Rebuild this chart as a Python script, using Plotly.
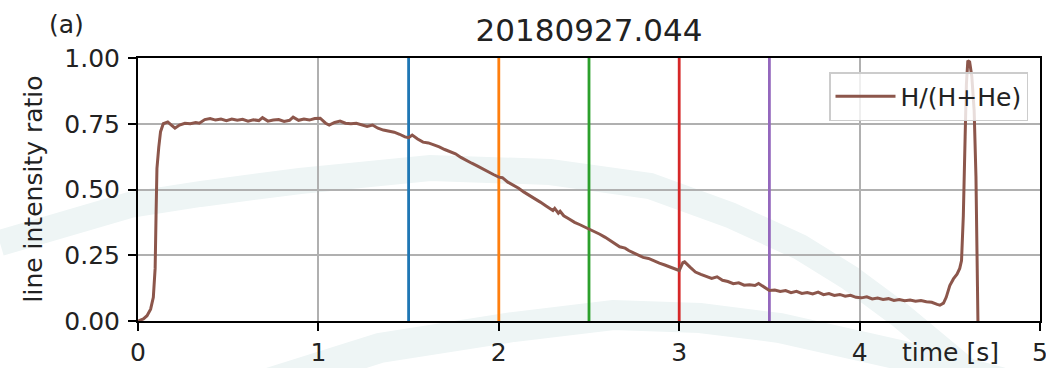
import plotly.graph_objects as go

# H/(H+He) line intensity ratio, shot 20180927.044
time_s = [
    0.00, 0.03, 0.05, 0.07, 0.085, 0.095, 0.10, 0.105, 0.115, 0.125, 0.14, 0.165, 0.185, 0.205,
    0.23, 0.26, 0.29, 0.32, 0.34, 0.37, 0.40, 0.43, 0.46, 0.49, 0.52, 0.55, 0.58, 0.61, 0.64,
    0.67, 0.69, 0.72, 0.75, 0.78, 0.81, 0.84, 0.86, 0.89, 0.92, 0.95, 0.98, 1.01, 1.04, 1.06,
    1.09, 1.12, 1.15, 1.18, 1.21, 1.24, 1.27, 1.30, 1.33, 1.36, 1.39, 1.42, 1.45, 1.48, 1.50,
    1.52, 1.55, 1.58, 1.61, 1.64, 1.67, 1.70, 1.73, 1.76, 1.79, 1.82, 1.85, 1.88, 1.91, 1.94,
    1.97, 2.00, 2.02, 2.05, 2.08, 2.11, 2.14, 2.17, 2.20, 2.23, 2.26, 2.28, 2.30, 2.31, 2.33,
    2.34, 2.36, 2.39, 2.42, 2.45, 2.48, 2.50, 2.53, 2.56, 2.59, 2.62, 2.65, 2.67, 2.70, 2.72,
    2.75, 2.78, 2.80, 2.83, 2.86, 2.89, 2.92, 2.95, 2.98, 3.00, 3.02, 3.03, 3.06, 3.09, 3.12,
    3.15, 3.18, 3.21, 3.24, 3.27, 3.30, 3.33, 3.36, 3.39, 3.42, 3.44, 3.47, 3.50, 3.53, 3.56,
    3.59, 3.62, 3.65, 3.68, 3.71, 3.74, 3.77, 3.80, 3.83, 3.86, 3.89, 3.92, 3.95, 3.98, 4.01,
    4.04, 4.07, 4.10, 4.13, 4.16, 4.19, 4.22, 4.25, 4.28, 4.31, 4.34, 4.37, 4.40, 4.43, 4.445,
    4.465, 4.48, 4.50, 4.52, 4.54, 4.555, 4.565, 4.575, 4.585, 4.592, 4.600, 4.610, 4.622,
    4.635, 4.645, 4.652, 4.656,
]
h_ratio = [
    0.000, 0.008, 0.020, 0.045, 0.090, 0.200, 0.400, 0.580, 0.660, 0.720, 0.750, 0.757, 0.745, 0.733,
    0.745, 0.752, 0.750, 0.755, 0.752, 0.766, 0.770, 0.764, 0.768, 0.762, 0.768, 0.763, 0.767, 0.760, 0.765,
    0.762, 0.773, 0.760, 0.764, 0.766, 0.759, 0.763, 0.775, 0.763, 0.768, 0.764, 0.770, 0.771, 0.752, 0.745,
    0.755, 0.760, 0.752, 0.750, 0.752, 0.745, 0.740, 0.745, 0.733, 0.726, 0.722, 0.718, 0.710, 0.700, 0.697,
    0.707, 0.692, 0.680, 0.677, 0.670, 0.662, 0.652, 0.645, 0.636, 0.622, 0.610, 0.600, 0.590, 0.578, 0.568,
    0.557, 0.547, 0.545, 0.528, 0.517, 0.505, 0.490, 0.478, 0.463, 0.452, 0.438, 0.430, 0.420, 0.428, 0.410,
    0.417, 0.400, 0.388, 0.375, 0.366, 0.356, 0.352, 0.342, 0.330, 0.318, 0.305, 0.293, 0.282, 0.277, 0.268,
    0.258, 0.250, 0.242, 0.238, 0.228, 0.220, 0.213, 0.205, 0.196, 0.192, 0.222, 0.225, 0.205, 0.186, 0.177,
    0.170, 0.162, 0.168, 0.155, 0.150, 0.142, 0.145, 0.136, 0.138, 0.135, 0.143, 0.128, 0.116, 0.118, 0.112,
    0.116, 0.108, 0.113, 0.105, 0.108, 0.103, 0.110, 0.100, 0.104, 0.097, 0.101, 0.094, 0.098, 0.090, 0.088,
    0.092, 0.084, 0.087, 0.082, 0.085, 0.078, 0.082, 0.077, 0.080, 0.075, 0.078, 0.073, 0.071, 0.063, 0.060,
    0.068, 0.090, 0.135, 0.160, 0.178, 0.200, 0.230, 0.400, 0.700, 0.900, 0.990, 0.985, 0.930,
    0.800, 0.550, 0.250, 0.000,
]

# Time slices marked on the trace
slice_times = [1.5, 2.0, 2.5, 3.0, 3.5]
slice_colors = ["#1f77b4", "#ff7f0e", "#2ca02c", "#d62728", "#9467bd"]

x_ticks = [0, 1, 2, 3, 4, 5]
y_ticks = [0.0, 0.25, 0.5, 0.75, 1.0]

FONT = "DejaVu Sans"
W, H = 1046, 368
L, R, T, B = 138, 6, 58, 47
PW, PH = W - L - R, H - T - B


def to_paper(px, py):
    return (px - L) / PW, (H - B - py) / PH


def band_path(points):
    pts = [to_paper(px, py) for px, py in points]
    return "M " + " L ".join(f"{x:.4f},{y:.4f}" for x, y in pts)


fig = go.Figure()

for t, c in zip(slice_times, slice_colors):
    fig.add_trace(go.Scatter(
        x=[t, t], y=[0, 1], mode="lines",
        line=dict(color=c, width=2.8), showlegend=False, hoverinfo="skip",
    ))

fig.add_trace(go.Scatter(
    x=time_s, y=h_ratio, mode="lines", name="H/(H+He)",
    line=dict(color="#8c564b", width=3),
))

# faint background arcs
arc_a = [(0, 243), (130, 205), (200, 194), (300, 181), (430, 168), (550, 172), (650, 186),
         (730, 215), (800, 247), (850, 278), (900, 315), (960, 365), (1000, 400)]
arc_b = [(230, 395), (380, 348), (513, 327), (613, 315), (700, 318), (780, 328),
         (900, 355), (1000, 382), (1060, 400)]
shapes = []
for pts, w in ((arc_a, 26), (arc_b, 30)):
    shapes.append(dict(
        type="path", xref="paper", yref="paper", path=band_path(pts),
        line=dict(color="#eef5f5", width=w), layer="below",
    ))

axis_common = dict(
    showline=True, linecolor="black", linewidth=2, mirror=True,
    ticks="outside", ticklen=8, tickwidth=2, tickcolor="black",
    showgrid=True, gridcolor="#b0b0b0", gridwidth=1.6, zeroline=False,
    tickfont=dict(family=FONT, size=25, color="#222222"),
    automargin=False, ticklabeloverflow="allow",
)

fig.update_layout(
    width=W, height=H,
    margin=dict(l=L, r=R, t=T, b=B, pad=0),
    paper_bgcolor="white", plot_bgcolor="rgba(0,0,0,0)",
    font=dict(family=FONT, color="#222222"),
    title=dict(text="20180927.044", x=589 / W, xanchor="center",
               y=1 - 30 / H, yanchor="middle", yref="container",
               font=dict(family=FONT, size=31, color="#222222")),
    xaxis=dict(range=[0, 5], tickvals=x_ticks, ticktext=[str(v) for v in x_ticks], **axis_common),
    yaxis=dict(range=[0, 1], tickvals=y_ticks, tickformat=".2f", ticklabelstandoff=3, **axis_common),
    legend=dict(
        x=to_paper(1028, 0)[0], xanchor="right", y=to_paper(0, 72)[1], yanchor="top",
        bgcolor="rgba(255,255,255,0.8)", bordercolor="#cccccc", borderwidth=1.5,
        font=dict(family=FONT, size=25, color="#222222"), itemwidth=60,
    ),
    shapes=shapes,
    annotations=[
        dict(text="(a)", xref="paper", yref="paper", x=to_paper(66, 0)[0], y=to_paper(0, 25)[1],
             showarrow=False, xanchor="center", yanchor="middle",
             font=dict(family=FONT, size=25, color="#222222")),
        dict(text="line intensity ratio", xref="paper", yref="paper", x=to_paper(33, 0)[0], y=0.5,
             textangle=-90, showarrow=False, xanchor="center", yanchor="middle",
             font=dict(family=FONT, size=25, color="#222222")),
        dict(text="time [s]", xref="paper", yref="paper", x=to_paper(950, 0)[0], y=to_paper(0, 352)[1],
             showarrow=False, xanchor="center", yanchor="middle",
             font=dict(family=FONT, size=25, color="#222222")),
    ],
)

fig.write_html("out.html")
